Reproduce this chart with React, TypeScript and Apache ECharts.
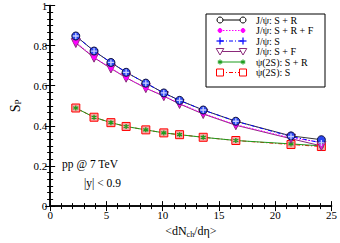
import React, { useEffect, useRef } from "react";
import * as echarts from "echarts";

const xVals = [2.28, 3.9, 5.4, 6.75, 8.5, 10.1, 11.5, 13.6, 16.5, 21.4, 24.1];
const jpsiSR = [0.848, 0.773, 0.716, 0.667, 0.613, 0.564, 0.527, 0.479, 0.423, 0.35, 0.331];
const jpsiSRF = [0.818, 0.742, 0.688, 0.641, 0.589, 0.549, 0.512, 0.462, 0.406, 0.34, 0.318];
const jpsiS = [0.848, 0.773, 0.716, 0.667, 0.613, 0.564, 0.527, 0.479, 0.423, 0.347, 0.315];
const jpsiSF = [0.813, 0.74, 0.686, 0.64, 0.588, 0.548, 0.509, 0.459, 0.403, 0.336, 0.3];
const psi2SSR = [0.489, 0.443, 0.416, 0.397, 0.38, 0.365, 0.356, 0.343, 0.327, 0.31, 0.3];
const psi2SS = [0.489, 0.443, 0.416, 0.397, 0.38, 0.365, 0.356, 0.343, 0.327, 0.307, 0.297];
const legendLabels = ["J/ψ: S + R", "J/ψ: S + R + F", "J/ψ: S", "J/ψ: S + F", "ψ(2S): S + R", "ψ(2S): S"];
const yTicks = [0, 0.2, 0.4, 0.6, 0.8, 1];

const FONT = "Liberation Serif";
const PLUS = "path://M0,-1L0,1M-1,0L1,0";
const STAR = "path://M0,-1L0,1M-0.87,-0.5L0.87,0.5M-0.87,0.5L0.87,-0.5";

const pair = (ys: number[]) => xVals.map((x, i) => [x, ys[i]]);

export default function App() {
  const ref = useRef<HTMLDivElement>(null);
  useEffect(() => {
    if (!ref.current) return;
    const chart = echarts.init(ref.current, null, { renderer: "svg" });
    const axisCommon = {
      axisLine: { lineStyle: { color: "#000", width: 1.5 } },
      axisTick: { inside: true, length: 5, lineStyle: { color: "#000", width: 1 } },
      minorTick: { show: true, length: 3, lineStyle: { color: "#000", width: 1 } },
      splitLine: { show: false },
    };
    const lx = 220, rx = 243, ly0 = 20, dy = 10.5, tx = 256;
    const legendGraphics: any[] = [
      { type: "rect", shape: { x: 206, y: 14, width: 119, height: 73 }, style: { fill: "#fff", stroke: "#000", lineWidth: 1 }, z: 100 },
    ];
    const styles = [
      { color: "#000", dash: null },
      { color: "#ff00ff", dash: [1.5, 1.5] },
      { color: "#0000ff", dash: [4, 2, 1, 2] },
      { color: "#8b2a7a", dash: null },
      { color: "#1c9c1c", dash: null },
      { color: "#ff0000", dash: [4, 2, 1, 2] },
    ];
    legendLabels.forEach((lab, i) => {
      const y = ly0 + i * dy;
      const s = styles[i];
      legendGraphics.push({
        type: "line", z: 101,
        shape: { x1: lx, y1: y, x2: rx, y2: y },
        style: { stroke: s.color, lineWidth: 1, lineDash: s.dash || undefined },
      });
      [lx, rx].forEach((cx) => {
        if (i === 0) legendGraphics.push({ type: "circle", z: 102, shape: { cx, cy: y, r: 3 }, style: { fill: "#fff", stroke: "#000", lineWidth: 1 } });
        if (i === 1) legendGraphics.push({ type: "circle", z: 102, shape: { cx, cy: y, r: 2 }, style: { fill: "#ff00ff", stroke: "#ff00ff" } });
        if (i === 2) {
          legendGraphics.push({ type: "line", z: 102, shape: { x1: cx - 3.5, y1: y, x2: cx + 3.5, y2: y }, style: { stroke: "#0000ff", lineWidth: 1.2 } });
          legendGraphics.push({ type: "line", z: 102, shape: { x1: cx, y1: y - 3.5, x2: cx, y2: y + 3.5 }, style: { stroke: "#0000ff", lineWidth: 1.2 } });
        }
        if (i === 3) legendGraphics.push({ type: "polygon", z: 102, shape: { points: [[cx - 3.8, y - 3], [cx + 3.8, y - 3], [cx, y + 3.5]] }, style: { fill: "#fff", stroke: "#8b2a7a", lineWidth: 1 } });
        if (i === 4) {
          [[0, -2.5, 0, 2.5], [-2.2, -1.25, 2.2, 1.25], [-2.2, 1.25, 2.2, -1.25]].forEach((p) =>
            legendGraphics.push({ type: "line", z: 102, shape: { x1: cx + p[0], y1: y + p[1], x2: cx + p[2], y2: y + p[3] }, style: { stroke: "#1c9c1c", lineWidth: 1.2 } })
          );
        }
        if (i === 5) legendGraphics.push({ type: "rect", z: 102, shape: { x: cx - 3.5, y: y - 3.5, width: 7, height: 7 }, style: { fill: "#fff", stroke: "#ff0000", lineWidth: 1 } });
      });
      legendGraphics.push({
        type: "text", z: 102, x: tx, y,
        style: { text: lab, fontFamily: FONT, fontSize: 10, fill: "#000", verticalAlign: "middle", align: "left" },
      });
    });

    chart.setOption({
      animation: false,
      backgroundColor: "#fff",
      grid: { left: 33, right: 6, top: 5, bottom: 28 },
      xAxis: [
        {
          type: "value", min: 0, max: 25, interval: 5,
          ...axisCommon,
          minorTick: { ...axisCommon.minorTick, splitNumber: 5 },
          axisLabel: { fontFamily: FONT, fontSize: 11, color: "#000", margin: 3 },
          name: "{a|<dN}{b|ch}{a|/dη>}",
          nameLocation: "middle", nameGap: 16,
          nameTextStyle: {
            rich: {
              a: { fontFamily: FONT, fontSize: 12, color: "#000" },
              b: { fontFamily: FONT, fontSize: 8, color: "#000", padding: [6, 0, 0, 0] },
            },
          },
        },
        {
          type: "value", min: 0, max: 25, interval: 5, position: "top",
          ...axisCommon,
          minorTick: { ...axisCommon.minorTick, splitNumber: 5 },
          axisLabel: { show: false },
        },
      ],
      yAxis: [
        {
          type: "value", min: 0, max: 1, interval: 0.2,
          ...axisCommon,
          minorTick: { ...axisCommon.minorTick, splitNumber: 6 },
          axisLabel: { fontFamily: FONT, fontSize: 11, color: "#000", margin: 3,
            formatter: (v: number) => (yTicks.includes(Math.round(v * 10) / 10) ? String(Math.round(v * 10) / 10) : "") },
          name: "{a|S}{b|P}",
          nameLocation: "middle", nameGap: 22, nameRotate: 90,
          nameTextStyle: {
            rich: {
              a: { fontFamily: FONT, fontSize: 14, color: "#000" },
              b: { fontFamily: FONT, fontSize: 9, color: "#000", padding: [6, 0, 0, 0] },
            },
          },
        },
        {
          type: "value", min: 0, max: 1, interval: 0.2, position: "right",
          ...axisCommon,
          minorTick: { ...axisCommon.minorTick, splitNumber: 6 },
          axisLabel: { show: false },
        },
      ],
      series: [
        {
          name: "ψ(2S): S", type: "line", data: pair(psi2SS),
          symbol: "rect", symbolSize: 8,
          itemStyle: { color: "#f6a8a8", borderColor: "#ff0000", borderWidth: 1 },
          lineStyle: { color: "#ff0000", width: 1, type: [4, 2, 1, 2] },
        },
        {
          name: "ψ(2S): S + R", type: "line", data: pair(psi2SSR),
          symbol: STAR, symbolSize: 5,
          itemStyle: { color: "#1c9c1c", borderColor: "#1c9c1c", borderWidth: 1.3 },
          lineStyle: { color: "#1c9c1c", width: 1 },
        },
        {
          name: "J/ψ: S + F", type: "line", data: pair(jpsiSF),
          symbol: "triangle", symbolRotate: 180, symbolSize: 9,
          itemStyle: { color: "#e020e0", borderColor: "#8b2a7a", borderWidth: 1 },
          lineStyle: { color: "#8b2a7a", width: 1 },
        },
        {
          name: "J/ψ: S + R + F", type: "line", data: pair(jpsiSRF),
          symbol: "circle", symbolSize: 4,
          itemStyle: { color: "#ff00ff", borderColor: "#ff00ff" },
          lineStyle: { color: "#ff00ff", width: 1, type: [1.5, 1.5] },
        },
        {
          name: "J/ψ: S + R", type: "line", data: pair(jpsiSR),
          symbol: "circle", symbolSize: 8,
          itemStyle: { color: "#2a45f0", borderColor: "#101040", borderWidth: 1 },
          lineStyle: { color: "#000", width: 0.8 },
        },
        {
          name: "J/ψ: S", type: "line", data: pair(jpsiS),
          symbol: PLUS, symbolSize: 6,
          itemStyle: { color: "#c8d0ff", borderColor: "#c8d0ff", borderWidth: 1.3 },
          lineStyle: { color: "#0000ff", width: 1, type: [4, 2, 1, 2] },
        },
      ],
      graphic: [
        { type: "text", x: 90, y: 164, style: { text: "pp @ 7 TeV", fontFamily: FONT, fontSize: 11.5, fill: "#000", align: "center", verticalAlign: "middle" } },
        { type: "text", x: 102.5, y: 183, style: { text: "|y| < 0.9", fontFamily: FONT, fontSize: 11.5, fill: "#000", align: "center", verticalAlign: "middle" } },
        ...legendGraphics,
      ],
    });
    return () => chart.dispose();
  }, []);
  return <div ref={ref} style={{ width: 340, height: 243, position: "absolute", left: 0, top: 0 }} />;
}
